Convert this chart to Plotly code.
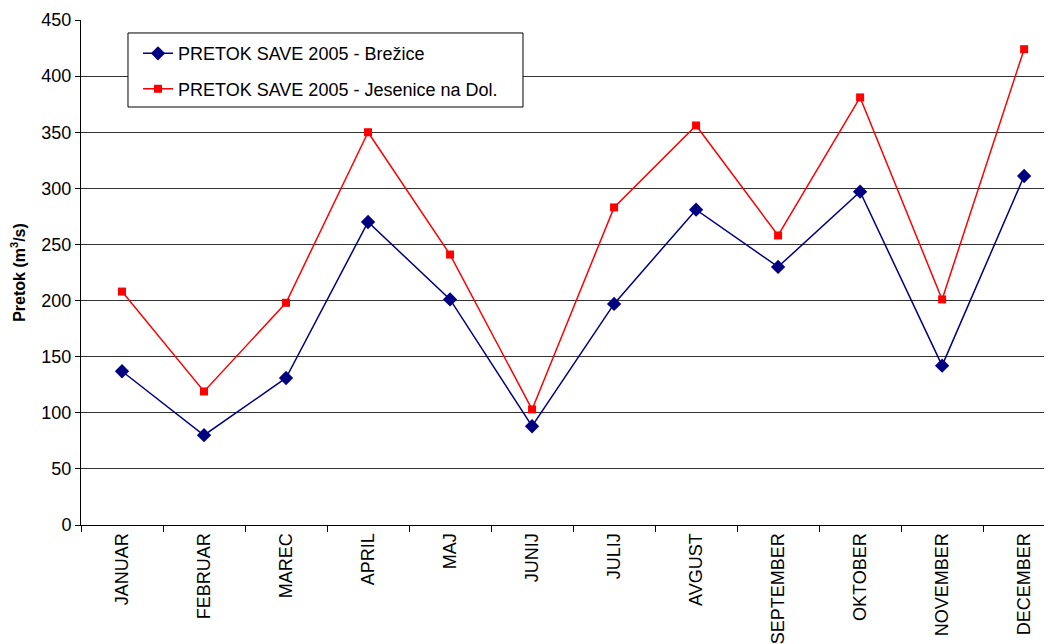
import plotly.graph_objects as go

months = ["JANUAR", "FEBRUAR", "MAREC", "APRIL", "MAJ", "JUNIJ", "JULIJ",
          "AVGUST", "SEPTEMBER", "OKTOBER", "NOVEMBER", "DECEMBER"]
brezice = [137, 80, 131, 270, 201, 88, 197, 281, 230, 297, 142, 311]
jesenice = [208, 119, 198, 350, 241, 103, 283, 356, 258, 381, 201, 424]

name_b = "PRETOK SAVE 2005 - Brežice"
name_j = "PRETOK SAVE 2005 - Jesenice na Dol."

fig = go.Figure()
fig.add_trace(go.Scatter(
    x=months, y=brezice, name=name_b, mode="lines+markers", legendgroup="b",
    line=dict(color="#000080", width=1.5),
    marker=dict(symbol="diamond", size=11, color="#000080"),
))
fig.add_trace(go.Scatter(
    x=months, y=jesenice, name=name_j, mode="lines+markers", legendgroup="j",
    line=dict(color="#FF0000", width=1.5),
    marker=dict(symbol="square", size=8, color="#FF0000"),
))

# legend frame
fig.add_shape(type="rect", xref="paper", yref="paper",
              x0=0.0484, x1=0.4552, y0=0.8277, y1=0.9743,
              line=dict(color="black", width=1), fillcolor="white", layer="above")

fig.update_layout(
    width=1044, height=636,
    margin=dict(l=73, r=0, t=12, b=119),
    paper_bgcolor="white", plot_bgcolor="white",
    font=dict(family="Arial, Liberation Sans, sans-serif", size=18, color="black"),
    showlegend=True,
    legend=dict(
        x=0.0587, y=0.970, xanchor="left", yanchor="top",
        borderwidth=0, bgcolor="rgba(0,0,0,0)",
        font=dict(size=18), tracegroupgap=9, traceorder="grouped",
    ),
)
fig.update_xaxes(
    type="category", range=[-0.5, 11.34], automargin=False,
    tickangle=-90, tickson="boundaries", ticks="outside", ticklen=6,
    tickcolor="black", showgrid=False, showline=True, linecolor="black",
    linewidth=1, tickfont=dict(size=18),
)
fig.update_yaxes(
    range=[0, 450], dtick=50, tick0=0, ticks="outside", ticklen=5,
    tickcolor="black", showgrid=True, gridcolor="#333333", gridwidth=1,
    showline=True, linecolor="black", linewidth=1, automargin=False,
    tickfont=dict(size=18), zeroline=False,
    title=dict(text="<b>Pretok (m<sup>3</sup>/s)</b>", font=dict(size=16), standoff=13),
)

fig.write_html("out.html")
